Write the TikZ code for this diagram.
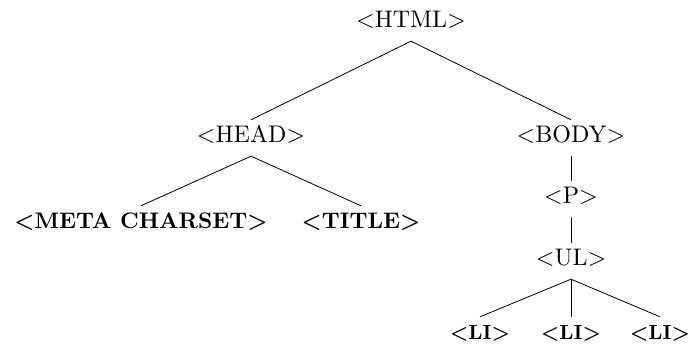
\documentclass[tikz,border=0pt]{standalone}
\usepackage{fontspec}
\setmainfont{lmroman10-regular.otf}[BoldFont=lmroman10-bold.otf]
\begin{document}
\begin{tikzpicture}[x=1pt,y=-1pt,
  tag/.style={anchor=base,inner sep=0pt,text height=23pt,text depth=13pt,
    font=\fontsize{24}{28}\selectfont},
  btag/.style={tag,font=\fontsize{22.5}{26}\selectfont\bfseries},
  ltag/.style={tag,font=\fontsize{20.5}{26}\selectfont\bfseries},
  edge/.style={line width=0.8pt,black}]
\useasboundingbox (0,0) rectangle (691,347);
\node[tag] (html) at (411,28) {<HTML>};
\node[tag] (head) at (251,143) {<HEAD>};
\node[tag] (body) at (571,143) {<BODY>};
\node[btag] (meta) at (141,229) {<META CHARSET>};
\node[btag] (title) at (361,229) {<TITLE>};
\node[tag] (p) at (571,204) {<P>};
\node[tag] (ul) at (571,266) {<UL>};
\node[ltag] (li1) at (480,340) {<LI>};
\node[ltag] (li2) at (571,340) {<LI>};
\node[ltag] (li3) at (660,340) {<LI>};
\draw[edge] (html.south) -- (head.north);
\draw[edge] (html.south) -- (body.north);
\draw[edge] (head.south) -- (meta.north);
\draw[edge] (head.south) -- (title.north);
\draw[edge] (body.south) -- (p.north);
\draw[edge] (p.south) -- (ul.north);
\draw[edge] (ul.south) -- (li1.north);
\draw[edge] (ul.south) -- (li2.north);
\draw[edge] (ul.south) -- (li3.north);
\end{tikzpicture}
\end{document}
